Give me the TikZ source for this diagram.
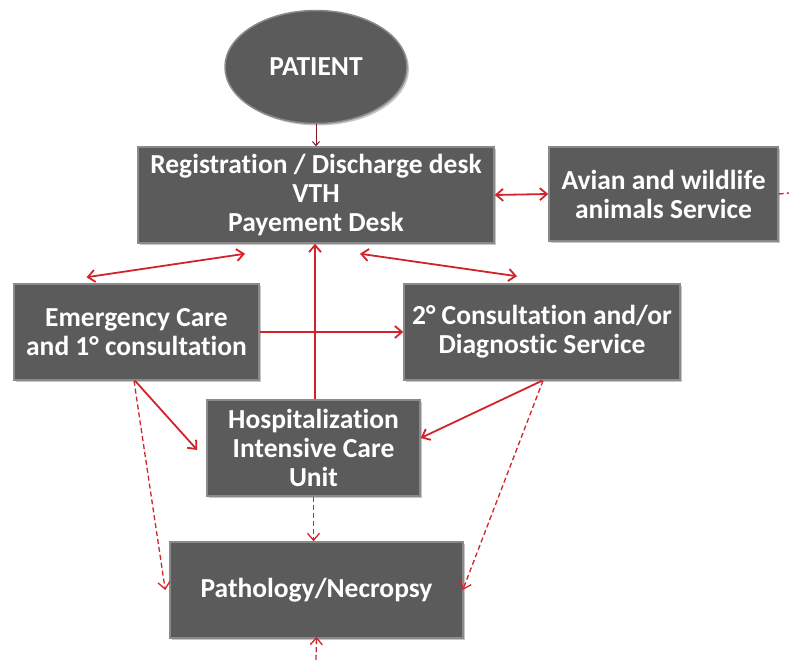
\documentclass[tikz,border=0pt]{standalone}
\usepackage{fontspec}
\setmainfont{Carlito}[Ligatures=NoCommon]
\usetikzlibrary{arrows.meta,shapes.geometric,shadows,calc}
\definecolor{boxfill}{HTML}{5B5B5B}
\definecolor{boxedge}{HTML}{8A8A8A}
\definecolor{arr}{HTML}{D2232A}
\definecolor{darr}{HTML}{7A1A1F}
\tikzset{
  box/.style={rectangle, fill=boxfill, draw=boxedge, line width=1.5pt,
    drop shadow={shadow xshift=2pt, shadow yshift=-2pt, opacity=0.45},
    text=white, font=\bfseries\fontsize{27.5}{29}\selectfont, align=center, inner sep=0pt},
  oval/.style={ellipse, fill=boxfill, draw=boxedge, line width=1.5pt,
    drop shadow={shadow xshift=2pt, shadow yshift=-2pt, opacity=0.45},
    text=white, font=\bfseries\fontsize{27.5}{29}\selectfont, inner sep=0pt},
  link/.style={draw=arr, line width=1.8pt, -{Straight Barb[length=7pt,width=12pt]}},
  dlink/.style={draw=arr, line width=1.8pt, {Straight Barb[length=7pt,width=12pt]}-{Straight Barb[length=7pt,width=12pt]}},
  dashlink/.style={draw=arr, line width=1.3pt, dashed, dash pattern=on 5pt off 3pt, -{Straight Barb[length=7pt,width=12pt]}},
}
\begin{document}
\begin{tikzpicture}[x=1pt,y=-1pt]
\useasboundingbox (0,0) rectangle (789,660);
\node[oval, minimum width=182, minimum height=113] (patient) at (316,67) {PATIENT};
\node[box, minimum width=356, minimum height=96] (reg) at (316,195) {Registration / Discharge desk\\VTH\\Payement Desk};
\node[box, minimum width=229, minimum height=94] (avian) at (663.5,194) {Avian and wildlife\\animals Service};
\node[box, minimum width=245, minimum height=96] (emerg) at (136.5,332) {Emergency Care\\and 1° consultation};
\node[box, minimum width=276, minimum height=96] (cons) at (542,332) {2° Consultation and/or\\Diagnostic Service};
\node[box, minimum width=213, minimum height=96] (hosp) at (313.5,448) {Hospitalization\\Intensive Care\\Unit};
\node[box, minimum width=293, minimum height=96] (path) at (316.5,590) {Pathology/Necropsy};
\coordinate (avout) at (789,193);
\coordinate (pathin) at (316,660);

\draw[draw=darr, line width=1pt, -{Straight Barb[length=4pt,width=7pt]}] (patient.south) -- (reg.north);
\draw[dlink] (reg.east) -- (avian.west);
\draw[draw=arr, line width=1.3pt, dashed, dash pattern=on 5pt off 3pt] (avian.east) -- (avout);
\draw[dlink] ([shift={(-50,-6)}]emerg.north) -- ([shift={(-71,10)}]reg.south);
\draw[dlink] ([shift={(44,10)}]reg.south) -- ([shift={(-25,-7)}]cons.north);
\draw[link] ([xshift=1.5]hosp.north) -- ([xshift=1.5]hosp.north |- reg.south);
\draw[link] (emerg.east) -- (cons.west);
\draw[link] ([xshift=-1.5]emerg.south) -- ([shift={(-9,2)}]hosp.west);
\draw[link] (cons.south) -- ([yshift=10]hosp.east);
\draw[dashlink] ([xshift=-2.5]emerg.south) -- ([xshift=-4]path.west);
\draw[dashlink] ([xshift=1]cons.south) -- ([xshift=-1]path.east);
\draw[dashlink] (hosp.south) -- (hosp.south |- path.north);
\draw[dashlink] (pathin) -- ([yshift=2]path.south);
\end{tikzpicture}
\end{document}
